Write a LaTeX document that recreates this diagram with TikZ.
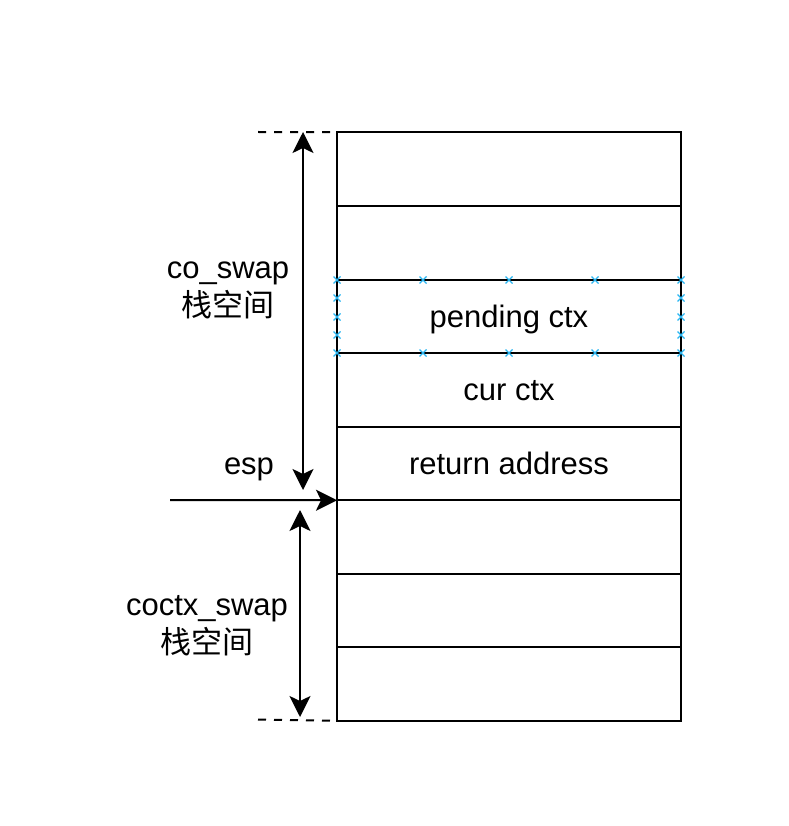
\documentclass[tikz,border=0pt]{standalone}
\usepackage{fontspec}
\setmainfont{Liberation Sans}
\newfontfamily\cjk{Noto Sans CJK SC}
\usetikzlibrary{arrows.meta}
\definecolor{handle}{HTML}{29B6F2}
\tikzset{
  rowbox/.style={draw, line width=2pt, minimum width=344pt, minimum height=73.5pt, inner sep=0pt, outer sep=0pt,
    text height=24pt, text depth=3pt, font=\fontsize{31}{35}\selectfont},
  lbl/.style={font=\fontsize{31}{38}\selectfont, align=center, inner sep=0pt},
  arr/.style={line width=2pt, -{Stealth[length=21pt,width=21pt,inset=5pt]}},
  darr/.style={line width=2pt, {Stealth[length=21pt,width=21pt,inset=5pt]}-{Stealth[length=21pt,width=21pt,inset=5pt]}},
  dashline/.style={line width=2pt, dash pattern=on 8pt off 8pt},
  hx/.style={handle, line width=1.3pt}
}
\begin{document}
\begin{tikzpicture}[x=1pt,y=-1pt]
\useasboundingbox (0,0) rectangle (788,826);
% stack rows
\node[rowbox] (r1) at (509,169) {};
\node[rowbox] (r2) at (509,243) {};
\node[rowbox] (r3) at (509,316.5) {pending ctx};
\node[rowbox] (r4) at (509,390) {cur ctx};
\node[rowbox] (r5) at (509,463.5) {return address};
\node[rowbox] (r6) at (509,537) {};
\node[rowbox] (r7) at (509,610.5) {};
\node[rowbox] (r8) at (509,684) {};
% dashed extents
\coordinate (dt) at (258,132);
\coordinate (db) at (258,719.5);
\draw[dashline] (dt) -- (r1.north west);
\draw[dashline] (db) -- (r8.south west);
% vertical arrows
\coordinate (a1t) at (303,132);
\coordinate (a1b) at (303,490);
\coordinate (a2t) at (300,510);
\coordinate (a2b) at (300,717);
\draw[darr] (a1b) -- (a1t);
\draw[darr] (a2t) -- (a2b);
% esp arrow
\coordinate (es) at (170,500);
\draw[arr] (es) -- (r6.north west);
% labels
\node[lbl] (lco) at (228,290) {co\_swap\\{\cjk 栈空间}};
\node[lbl] (lesp) at (249,469) {esp};
\node[lbl] (lcoctx) at (207,626) {coctx\_swap\\{\cjk 栈空间}};
% selection handles
\foreach \x in {337,423,509,595,681}{
  \foreach \y in {280,353}{
    \draw[hx] (\x-3.5,\y-3.5) -- (\x+3.5,\y+3.5) (\x-3.5,\y+3.5) -- (\x+3.5,\y-3.5);
  }
}
\foreach \x in {337,681}{
  \foreach \y in {298,317,335}{
    \draw[hx] (\x-3.5,\y-3.5) -- (\x+3.5,\y+3.5) (\x-3.5,\y+3.5) -- (\x+3.5,\y-3.5);
  }
}
\end{tikzpicture}
\end{document}
